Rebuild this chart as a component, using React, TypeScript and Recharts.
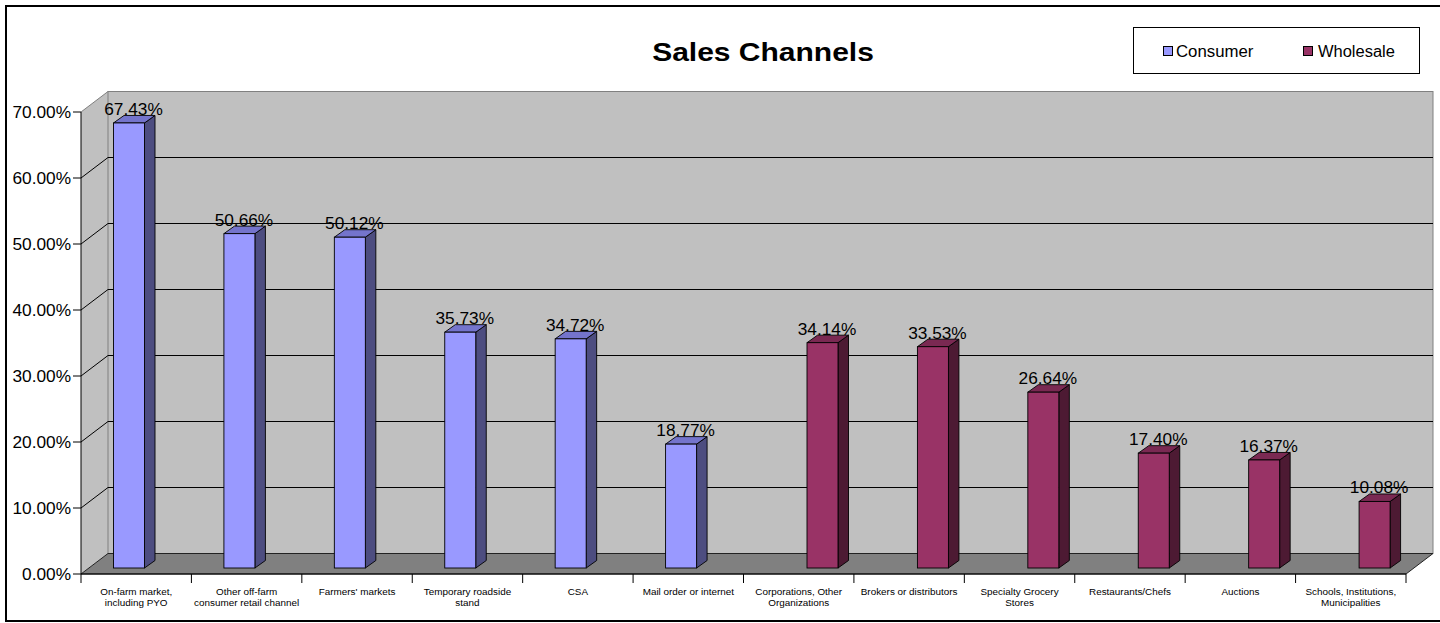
import React from 'react';
import { BarChart, Bar, XAxis, YAxis, CartesianGrid } from 'recharts';

const categories = [
  'On-farm market,\nincluding PYO',
  'Other off-farm\nconsumer retail channel',
  "Farmers' markets",
  'Temporary roadside\nstand',
  'CSA',
  'Mail order or internet',
  'Corporations, Other\nOrganizations',
  'Brokers or distributors',
  'Specialty Grocery\nStores',
  'Restaurants/Chefs',
  'Auctions',
  'Schools, Institutions,\nMunicipalities',
];
const consumerValues: (number | null)[] = [67.43, 50.66, 50.12, 35.73, 34.72, 18.77, null, null, null, null, null, null];
const wholesaleValues: (number | null)[] = [null, null, null, null, null, null, 34.14, 33.53, 26.64, 17.4, 16.37, 10.08];
const yTicks = [0, 10, 20, 30, 40, 50, 60, 70];
const seriesNames = ['Consumer', 'Wholesale'];
const titleText = 'Sales Channels';

const data = categories.map((name, i) => ({
  name,
  consumer: consumerValues[i],
  wholesale: wholesaleValues[i],
}));

const FONT = '"Liberation Sans", Arial, sans-serif';
const WALL_DX = 27;
const WALL_DY = -20.5;
const BAR_SHIFT_X = 8.5;
const BAR_SHIFT_Y = -6;
const BAR_DX = 10.5;
const BAR_DY = -7.5;

const COLORS = {
  consumer: { front: '#9999FF', top: '#7474CC', side: '#4D4D80' },
  wholesale: { front: '#993366', top: '#7A2952', side: '#4D1A33' },
};

const renderGridLine = (props: any) => {
  const { x, y, width, height, y1, index } = props;
  const left = x;
  const right = x + width;
  const top = y;
  const bottom = y + height;
  const isBottom = Math.abs(y1 - bottom) < 0.5;
  const isTop = Math.abs(y1 - top) < 0.5;
  const backdrop =
    index === 0 ? (
      <g>
        <polygon
          points={`${left},${top} ${left + WALL_DX},${top + WALL_DY} ${left + WALL_DX},${bottom + WALL_DY} ${left},${bottom}`}
          fill="#C0C0C0"
          stroke="none"
        />
        <rect
          x={left + WALL_DX}
          y={top + WALL_DY}
          width={width}
          height={height}
          fill="#C0C0C0"
          stroke="#808080"
          strokeWidth={1}
        />
        <line x1={left} y1={top} x2={left + WALL_DX} y2={top + WALL_DY} stroke="#808080" strokeWidth={1} />
        <polygon
          points={`${left},${bottom} ${left + WALL_DX},${bottom + WALL_DY} ${right + WALL_DX},${bottom + WALL_DY} ${right},${bottom}`}
          fill="#808080"
          stroke="#222"
          strokeWidth={1}
        />
      </g>
    ) : null;
  let lines: React.ReactNode = null;
  if (!isBottom && !isTop) {
    lines = (
      <g>
        <line x1={left} y1={y1} x2={left + WALL_DX} y2={y1 + WALL_DY} stroke="#000" strokeWidth={1} />
        <line x1={left + WALL_DX} y1={y1 + WALL_DY} x2={right + WALL_DX} y2={y1 + WALL_DY} stroke="#000" strokeWidth={1} />
      </g>
    );
  }
  return (
    <g key={props.key ?? `gl-${index}`}>
      {backdrop}
      {lines}
    </g>
  );
};

const makeShape = (key: 'consumer' | 'wholesale') => (props: any) => {
  const { x, y, width, height, payload } = props;
  const v = payload ? payload[key] : null;
  if (v == null || !(height > 0)) return <g />;
  const c = COLORS[key];
  const fx = x + BAR_SHIFT_X;
  const fy = y + BAR_SHIFT_Y;
  const w = width;
  const h = height;
  return (
    <g>
      <polygon
        points={`${fx + w},${fy} ${fx + w + BAR_DX},${fy + BAR_DY} ${fx + w + BAR_DX},${fy + h + BAR_DY} ${fx + w},${fy + h}`}
        fill={c.side}
        stroke="#000"
        strokeWidth={0.9}
        strokeLinejoin="round"
      />
      <polygon
        points={`${fx},${fy} ${fx + w},${fy} ${fx + w + BAR_DX},${fy + BAR_DY} ${fx + BAR_DX},${fy + BAR_DY}`}
        fill={c.top}
        stroke="#000"
        strokeWidth={0.9}
        strokeLinejoin="round"
      />
      <rect x={fx} y={fy} width={w} height={h} fill={c.front} stroke="#000" strokeWidth={0.9} />
      <g transform={`translate(${fx + w / 2 + 4.5},${fy + BAR_DY - 0.5}) scale(1.08,1)`}>
        <text x={0} y={0} textAnchor="middle" fontFamily={FONT} fontSize={16} fill="#000">
          {`${v.toFixed(2)}%`}
        </text>
      </g>
    </g>
  );
};

const YTick = (props: any) => {
  const { x, y, payload } = props;
  return (
    <g transform={`translate(${x},${y}) scale(1.08,1)`}>
      <text x={0} y={0} dy="0.355em" textAnchor="end" fontFamily={FONT} fontSize={16} fill="#000">
        {`${Number(payload.value).toFixed(2)}%`}
      </text>
    </g>
  );
};

const XTick = (props: any) => {
  const { x, y, payload, width, visibleTicksCount, index } = props;
  let half = payload && payload.offset ? payload.offset : 0;
  if (!(half > 0)) half = width / (visibleTicksCount || categories.length) / 2;
  const lines = String(payload.value).split('\n');
  const isLast = index === (visibleTicksCount || categories.length) - 1;
  return (
    <g>
      <line x1={x - half} y1={y} x2={x - half} y2={y + 9} stroke="#000" strokeWidth={1} />
      {isLast ? <line x1={x + half} y1={y} x2={x + half} y2={y + 9} stroke="#000" strokeWidth={1} /> : null}
      {lines.map((ln, i) => (
        <g key={i} transform={`translate(${x},${y + 20.5 + i * 11.5}) scale(1.1,1)`}>
          <text x={0} y={0} textAnchor="middle" fontFamily={FONT} fontSize={9} fill="#000">
            {ln}
          </text>
        </g>
      ))}
    </g>
  );
};

export default function App() {
  return (
    <div style={{ position: 'absolute', left: 0, top: 0, width: 1440, height: 623, overflow: 'hidden', background: '#fff' }}>
      <div
        style={{
          position: 'absolute',
          left: 5,
          top: 5,
          width: 1450,
          height: 613,
          border: '2px solid #000',
        }}
      />
      <div style={{ position: 'absolute', left: 0, top: 0 }}>
        <BarChart
          width={1440}
          height={623}
          data={data}
          margin={{ top: 112, right: 34, bottom: 9, left: 11 }}
          barSize={31}
          barGap={0}
        >
          <CartesianGrid vertical={false} horizontal={renderGridLine} fill="none" />
          <XAxis
            dataKey="name"
            type="category"
            interval={0}
            height={40}
            tickLine={false}
            tickSize={0}
            tickMargin={0}
            axisLine={{ stroke: '#000', strokeWidth: 1 }}
            tick={<XTick />}
          />
          <YAxis
            type="number"
            domain={[0, 70]}
            ticks={yTicks}
            interval={0}
            width={70}
            tickSize={8}
            tickMargin={2}
            tickLine={{ stroke: '#000', strokeWidth: 1 }}
            axisLine={{ stroke: '#000', strokeWidth: 1 }}
            tick={<YTick />}
          />
          <Bar dataKey="consumer" name={seriesNames[0]} isAnimationActive={false} shape={makeShape('consumer')} />
          <Bar dataKey="wholesale" name={seriesNames[1]} isAnimationActive={false} shape={makeShape('wholesale')} />
        </BarChart>
      </div>
      <svg
        width={1440}
        height={623}
        style={{ position: 'absolute', left: 0, top: 0, pointerEvents: 'none' }}
      >
        <g transform="translate(763,61) scale(1.2,1)">
          <text x={0} y={0} textAnchor="middle" fontFamily={FONT} fontSize={25} fontWeight="bold" fill="#000">
            {titleText}
          </text>
        </g>
        <rect x={1133.5} y={27.5} width={286} height={46} fill="#fff" stroke="#000" strokeWidth={1} />
        <rect x={1163.5} y={46.5} width={9} height={9} fill={COLORS.consumer.front} stroke="#000" strokeWidth={1} />
        <g transform="translate(1176,56.5) scale(1.05,1)">
          <text x={0} y={0} fontFamily={FONT} fontSize={16} fill="#000">
            {seriesNames[0]}
          </text>
        </g>
        <rect x={1303.5} y={46.5} width={9} height={9} fill={COLORS.wholesale.front} stroke="#000" strokeWidth={1} />
        <g transform="translate(1318,56.5) scale(1.03,1)">
          <text x={0} y={0} fontFamily={FONT} fontSize={16} fill="#000">
            {seriesNames[1]}
          </text>
        </g>
      </svg>
    </div>
  );
}
